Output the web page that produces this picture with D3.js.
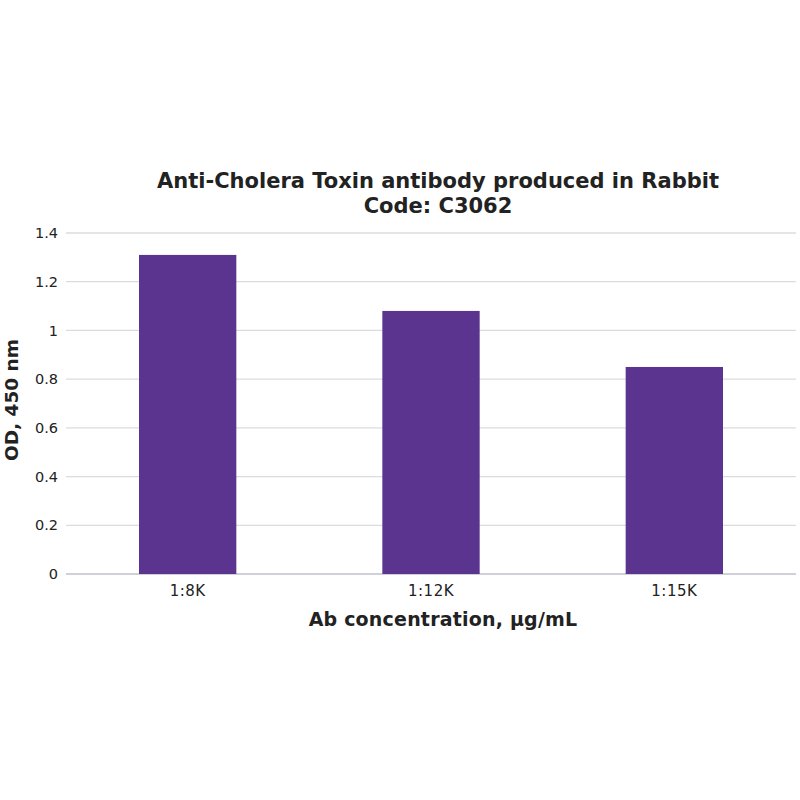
<!DOCTYPE html>
<html>
<head>
<meta charset="utf-8">
<script src="https://cdn.jsdelivr.net/npm/d3@7"></script>
<style>
  body { margin: 0; background: #fff; }
  text { font-family: "DejaVu Sans", Verdana, sans-serif; fill: #222; }
</style>
</head>
<body>
<div class="chart"></div>
<script>
// values
let dilutions = ["1:8K", "1:12K", "1:15K"];
let odValues = [1.31, 1.08, 0.85];
let yTicks = [0, 0.2, 0.4, 0.6, 0.8, 1, 1.2, 1.4];
let titleLines = ["Anti-Cholera Toxin antibody produced in Rabbit", "Code: C3062"];

let width = 800, height = 800;
let margin = {top: 233, bottom: 226, left: 66, right: 4};

const svg = d3.select(".chart")
  .append("svg")
  .attr("width", width)
  .attr("height", height);

let x = d3.scaleBand()
  .domain(dilutions)
  .range([margin.left, width - margin.right])
  .paddingInner(0.6)
  .paddingOuter(0.3);

let y = d3.scaleLinear()
  .domain([0, 1.4])
  .range([height - margin.bottom, margin.top]);

// gridlines
svg.append("g")
  .selectAll("line")
  .data(yTicks)
  .enter()
  .append("line")
  .attr("x1", margin.left)
  .attr("x2", width - margin.right)
  .attr("y1", d => y(d))
  .attr("y2", d => y(d))
  .attr("stroke", d => d === 0 ? "#d0d0d8" : "#dcdcdc")
  .attr("stroke-width", d => d === 0 ? 2 : 1.3);

// y tick labels
let yAxis = svg.append("g")
  .attr("transform", "translate(" + margin.left + ",0)")
  .call(d3.axisLeft(y).tickValues(yTicks).tickSize(0).tickPadding(8).tickFormat(d3.format("~g")));
yAxis.select(".domain").remove();
yAxis.selectAll("text").style("font-size", "14.5px").attr("fill", "#222");

// bars
svg.selectAll(".bar")
  .data(dilutions)
  .enter()
  .append("rect")
  .attr("class", "bar")
  .attr("x", d => x(d))
  .attr("width", x.bandwidth())
  .attr("y", (d, i) => y(odValues[i]))
  .attr("height", (d, i) => y(0) - y(odValues[i]))
  .attr("fill", "#5b348f");

// x tick labels
let xAxis = svg.append("g")
  .attr("transform", "translate(0," + y(0) + ")")
  .call(d3.axisBottom(x).tickSize(0).tickPadding(11));
xAxis.select(".domain").remove();
xAxis.selectAll("text").style("font-size", "15px").style("letter-spacing", "0.5px").attr("fill", "#222");

// title
svg.selectAll(".title")
  .data(titleLines)
  .enter()
  .append("text")
  .attr("class", "title")
  .attr("x", 438)
  .attr("y", (d, i) => 188 + i * 25)
  .attr("text-anchor", "middle")
  .style("font-size", "21px")
  .style("font-weight", "bold")
  .text(d => d);

// axis titles
svg.append("text")
  .attr("x", 443)
  .attr("y", 626)
  .attr("text-anchor", "middle")
  .style("font-size", "19px")
  .style("font-weight", "bold")
  .style("letter-spacing", "0.2px")
  .text("Ab concentration, \u03bcg/mL");

svg.append("text")
  .attr("transform", "translate(18,400) rotate(-90)")
  .attr("text-anchor", "middle")
  .style("font-size", "18.5px")
  .style("font-weight", "bold")
  .text("OD, 450 nm");
</script>
</body>
</html>
